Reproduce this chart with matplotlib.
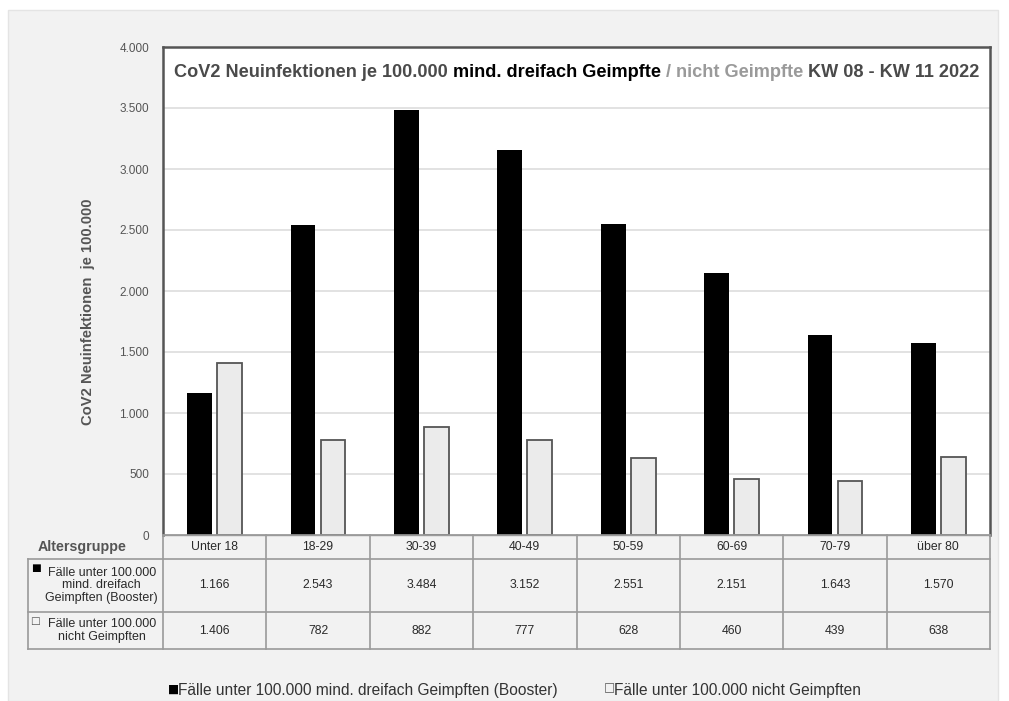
import matplotlib.pyplot as plt
from matplotlib.patches import Rectangle
from matplotlib.ticker import FuncFormatter
import matplotlib.transforms as mtransforms
import numpy as np

plt.rcParams['font.family'] = ['Liberation Sans', 'DejaVu Sans']

altersgruppen = ["Unter 18", "18-29", "30-39", "40-49", "50-59", "60-69", "70-79", "über 80"]
booster = [1166, 2543, 3484, 3152, 2551, 2151, 1643, 1570]
ungeimpft = [1406, 782, 882, 777, 628, 460, 439, 638]

label_booster = "Fälle unter 100.000 mind. dreifach Geimpften (Booster)"
label_ungeimpft = "Fälle unter 100.000 nicht Geimpften"
row_label_booster = "Fälle unter 100.000\nmind. dreifach\nGeimpften (Booster)"
row_label_ungeimpft = "Fälle unter 100.000\nnicht Geimpften"

GRAU = "#555555"
HELL = "#ebebeb"
LINIE = "#9a9a9a"
TEXT = "#2a2a2a"

W, H = 1009, 701
fig = plt.figure(figsize=(W / 100, H / 100), dpi=100, facecolor="white")
fig.patches.append(Rectangle((8 / W, 0), 990 / W, 1 - 10 / H, transform=fig.transFigure,
                             facecolor="#f2f2f2", edgecolor="#e4e4e4", lw=1, zorder=-10))

ax = fig.add_axes([163 / W, 1 - 535 / H, 827 / W, 488 / H])
ax.set_facecolor("white")

x = np.arange(len(altersgruppen))
bw = 0.24
ax.bar(x - 0.145, booster, bw, color="black", zorder=3)
ax.bar(x + 0.145, ungeimpft, bw, color=HELL, edgecolor=GRAU, lw=1.3, zorder=3)

ax.set_xlim(-0.5, len(altersgruppen) - 0.5)
ax.set_ylim(0, 4000)
ax.set_yticks(np.arange(0, 4001, 500))
ax.yaxis.set_major_formatter(FuncFormatter(lambda v, p: f"{int(v):,}".replace(",", ".")))
ax.tick_params(axis="y", length=0, pad=10, labelsize=8.5, labelcolor=GRAU)
ax.set_xticks([])
ax.grid(axis="y", color="#dddddd", lw=1.2, zorder=0)
for s in ax.spines.values():
    s.set_color(GRAU)
    s.set_linewidth(1.8)
ax.spines["bottom"].set_color(LINIE)
ax.spines["bottom"].set_linewidth(1)

fig.text(88 / W, 1 - 312 / H, "CoV2 Neuinfektionen  je 100.000", rotation=90,
         ha="center", va="center", fontsize=10.6, fontweight="bold", color=GRAU)

# Titel in mehreren Farben
teile = [("CoV2 Neuinfektionen je 100.000 ", "#4a4a4a"),
         ("mind. dreifach Geimpfte", "black"),
         (" / nicht Geimpfte ", "#9a9a9a"),
         ("KW 08 - KW 11 2022", "#4a4a4a")]
prev = ax.text(0.013, 0.93, teile[0][0], transform=ax.transAxes, ha="left", va="bottom",
               fontsize=13.1, fontweight="bold", color=teile[0][1])
for s, c in teile[1:]:
    prev = ax.annotate(s, xy=(1, 0), xycoords=prev, ha="left", va="bottom",
                       fontsize=13.1, fontweight="bold", color=c)

# Datentabelle unter dem Diagramm
tr = mtransforms.blended_transform_factory(ax.transData, ax.transAxes)
px = 1 / 488
y_kopf = -24 * px
y_r1 = -77 * px
y_r2 = -114 * px
x_links = -0.5 - 135 / 103.4
x_rechts = len(altersgruppen) - 0.5

def linie(xs, ys):
    ax.plot(xs, ys, color=LINIE, lw=1.2, transform=tr, clip_on=False, zorder=5)

for yy in [y_kopf, y_r1, y_r2]:
    linie([x_links, x_rechts], [yy, yy])
linie([-0.5, x_rechts], [0, 0])
linie([x_links, x_links], [y_kopf, y_r2])
for k in range(len(altersgruppen) + 1):
    linie([k - 0.5, k - 0.5], [0, y_r2])

for i, name in enumerate(altersgruppen):
    ax.text(i, y_kopf / 2, name, transform=tr, ha="center", va="center",
            fontsize=8.8, color=TEXT)
    ax.text(i, (y_kopf + y_r1) / 2, f"{booster[i]:,}".replace(",", "."), transform=tr,
            ha="center", va="center", fontsize=8.8, color=TEXT)
    ax.text(i, (y_r1 + y_r2) / 2, f"{ungeimpft[i]:,}".replace(",", "."), transform=tr,
            ha="center", va="center", fontsize=8.8, color=TEXT)

x_mitte = (x_links - 0.5) / 2
ax.text(x_links + 0.52, y_kopf / 2, "Altersgruppe", transform=tr, ha="center", va="center",
        fontsize=10.3, fontweight="bold", color=GRAU)
ax.text(x_mitte + 0.06, (y_kopf + y_r1) / 2, row_label_booster, transform=tr, ha="center",
        va="center", fontsize=9, color=TEXT, linespacing=1.05)
ax.text(x_mitte + 0.06, (y_r1 + y_r2) / 2, row_label_ungeimpft, transform=tr, ha="center",
        va="center", fontsize=9, color=TEXT, linespacing=1.05)
ax.text(x_links + 0.03, y_kopf - 9 * px, "■", transform=tr, ha="left", va="center",
        fontsize=7.5, color="black", family="DejaVu Sans")
ax.text(x_links + 0.02, y_r1 - 9 * px, "□", transform=tr, ha="left", va="center",
        fontsize=7.5, color=GRAU, family="DejaVu Sans")

# Legende
fig.text(168 / W, 1 - 689 / H, "■", ha="left", va="center", fontsize=8.5,
         color="black", family="DejaVu Sans")
fig.text(178 / W, 1 - 690 / H, label_booster, ha="left", va="center",
         fontsize=11.2, color="#333333")
fig.text(604 / W, 1 - 688 / H, "□", ha="left", va="center", fontsize=8.5,
         color=GRAU, family="DejaVu Sans")
fig.text(614 / W, 1 - 690 / H, label_ungeimpft, ha="left", va="center",
         fontsize=11.2, color="#333333")

fig.savefig("out.png", dpi=100, facecolor=fig.get_facecolor())
